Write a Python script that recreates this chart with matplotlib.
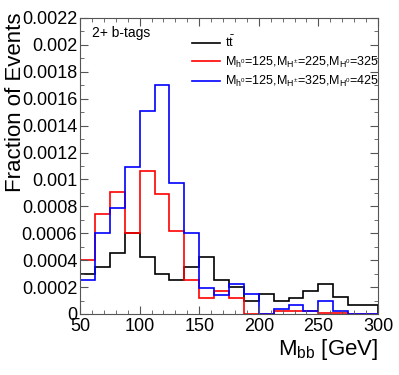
import matplotlib
matplotlib.use('Agg')
import matplotlib.pyplot as plt
import numpy as np
from matplotlib.ticker import MultipleLocator, FuncFormatter

plt.rcParams['font.family'] = ['Liberation Sans', 'DejaVu Sans']
plt.rcParams['mathtext.fontset'] = 'custom'
plt.rcParams['mathtext.rm'] = 'Liberation Sans'
plt.rcParams['mathtext.it'] = 'Liberation Sans:italic'

#Bin edges for M_bb (GeV), 20 bins of 12.5
edges = np.arange(50, 300.1, 12.5)

#Fraction of events per bin
ttbar = [0.0003, 0.00035, 0.00045, 0.0006, 0.00042, 0.0003, 0.00025, 0.00035, 0.00042, 0.00025,
         0.0002, 0.0001, 0.00015, 0.0001, 0.00012, 0.00017, 0.00022, 0.000125, 0.00007, 0.00007]
sig225 = [0.0004, 0.00074, 0.00091, 0.0006, 0.00106, 0.00089, 0.00062, 0.00025, 0.00012, 0.00017,
          0.00012, 0.0, 0.0, 0.00002, 0.00002, 0.00002, 0.00001, 0.00001, 0.0, 0.0]
sig325 = [0.00025, 0.0006, 0.00079, 0.00109, 0.00151, 0.0017, 0.00097, 0.0006, 0.00019, 0.00014,
          0.00022, 0.00015, 0.0, 0.00004, 0.00007, 0.00002, 0.0001, 0.00002, 0.0, 0.0]

labels = [r'$\mathrm{t\bar{t}}$',
          r'M$_{\mathrm{h^{0}}}$=125,M$_{\mathrm{H^{\pm}}}$=225,M$_{\mathrm{H^{0}}}$=325',
          r'M$_{\mathrm{h^{0}}}$=125,M$_{\mathrm{H^{\pm}}}$=325,M$_{\mathrm{H^{0}}}$=425']
colors = ['black', '#ff0000', '#0000ff']

fig = plt.figure(figsize=(3.99, 3.75), dpi=100)
ax = fig.add_axes([80/399, 1 - 314/375, 298/399, 296/375])

for vals, lab, col in zip([ttbar, sig225, sig325], labels, colors):
    ax.stairs(vals, edges, color=col, lw=1.2, label=lab)

ax.set_xlim(50, 300)
ax.set_ylim(0, 0.0022)

#ROOT style ticks
ax.xaxis.set_major_locator(MultipleLocator(50))
ax.xaxis.set_minor_locator(MultipleLocator(10))
ax.yaxis.set_major_locator(MultipleLocator(0.0002))
ax.yaxis.set_minor_locator(MultipleLocator(0.0001))
ax.yaxis.set_major_formatter(FuncFormatter(lambda v, p: '%g' % round(v, 6)))
ax.tick_params(which='both', direction='in', top=True, right=True, color='#555555', labelsize=13)
ax.tick_params(which='major', length=6)
ax.tick_params(which='minor', length=3)
ax.tick_params(axis='x', pad=3)
ax.tick_params(axis='y', pad=2)
for s in ax.spines.values():
    s.set_color('#555555')

fig.text(0.013, 1 - 13/375, 'Fraction of Events', rotation=90, ha='left', va='top', fontsize=16)
fig.text(378/399, 1 - 355/375, r'M$_{\mathrm{bb}}$ [GeV]', ha='right', va='baseline', fontsize=16)

ax.text(0.04, 0.95, '2+ b-tags', transform=ax.transAxes, ha='left', va='center', fontsize=10)

ax.legend(loc='upper left', bbox_to_anchor=(0.36, 0.96), frameon=False, fontsize=9,
          handlelength=2.2, handletextpad=0.4, labelspacing=0.35, borderaxespad=0)

fig.savefig('out.png', dpi=100)
